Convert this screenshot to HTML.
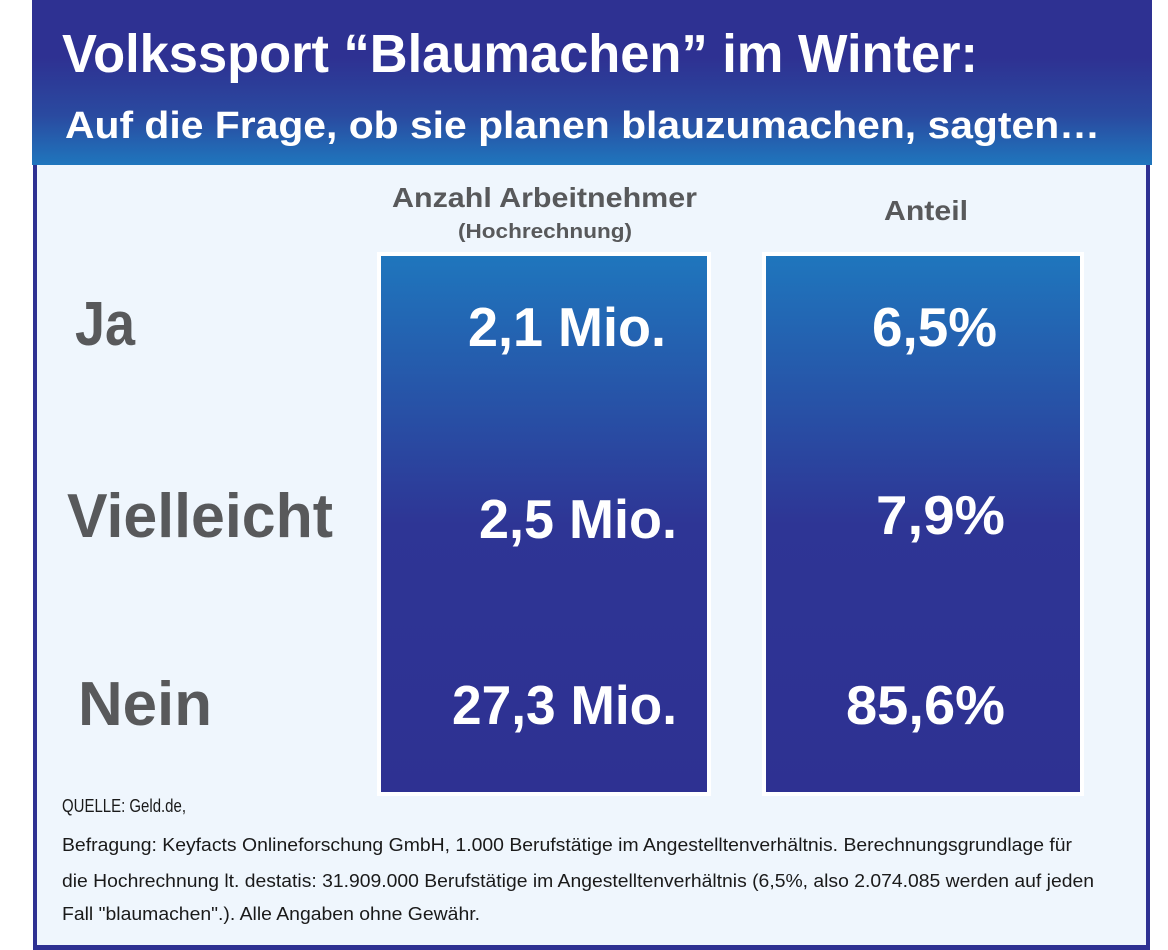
<!DOCTYPE html>
<html><head><meta charset="utf-8"><style>
html,body{margin:0;padding:0;background:#fff;}
svg{display:block;}
text{font-family:"Liberation Sans",sans-serif;}
</style></head><body>
<svg width="1168" height="950" viewBox="0 0 1168 950" xmlns="http://www.w3.org/2000/svg">
<defs>
<linearGradient id="hg" x1="0" y1="0" x2="0" y2="1">
<stop offset="0" stop-color="#2e3192"/><stop offset="0.35" stop-color="#2e3192"/><stop offset="0.7" stop-color="#2a4aa0"/><stop offset="1" stop-color="#1f76bd"/>
</linearGradient>
<linearGradient id="bg" x1="0" y1="0" x2="0" y2="1">
<stop offset="0" stop-color="#1f76bd"/><stop offset="0.5" stop-color="#2e3595"/><stop offset="1" stop-color="#2e3192"/>
</linearGradient>
</defs>
<rect x="33" y="160" width="1117" height="790" fill="#2e3192"/>
<rect x="37" y="165" width="1109" height="780" fill="#eff6fd"/>
<rect x="32" y="0" width="1120" height="165" fill="url(#hg)"/>
<text x="62" y="72" font-size="54" font-weight="bold" fill="#fff" textLength="916" lengthAdjust="spacingAndGlyphs">Volkssport “Blaumachen” im Winter:</text>
<text x="65" y="138" font-size="38" font-weight="bold" fill="#fff" textLength="1035" lengthAdjust="spacingAndGlyphs">Auf die Frage, ob sie planen blauzumachen, sagten…</text>
<text x="392" y="207" font-size="28" font-weight="bold" fill="#58595b" textLength="305" lengthAdjust="spacingAndGlyphs">Anzahl Arbeitnehmer</text>
<text x="458" y="238" font-size="20" font-weight="bold" fill="#58595b" textLength="174" lengthAdjust="spacingAndGlyphs">(Hochrechnung)</text>
<text x="884" y="220" font-size="28" font-weight="bold" fill="#58595b" textLength="84" lengthAdjust="spacingAndGlyphs">Anteil</text>
<rect x="377" y="252" width="334" height="544" fill="#fff"/>
<rect x="381" y="256" width="326" height="536" fill="url(#bg)"/>
<rect x="762" y="252" width="322" height="544" fill="#fff"/>
<rect x="766" y="256" width="314" height="536" fill="url(#bg)"/>
<g font-size="62" font-weight="bold" fill="#58595b">
<text x="75" y="345" textLength="60" lengthAdjust="spacingAndGlyphs">Ja</text>
<text x="67" y="537" textLength="266" lengthAdjust="spacingAndGlyphs">Vielleicht</text>
<text x="78" y="725" textLength="134" lengthAdjust="spacingAndGlyphs">Nein</text>
</g>
<g font-size="55" font-weight="bold" fill="#fff">
<text x="468" y="346" textLength="198" lengthAdjust="spacingAndGlyphs">2,1 Mio.</text>
<text x="479" y="538" textLength="198" lengthAdjust="spacingAndGlyphs">2,5 Mio.</text>
<text x="452" y="724" textLength="225" lengthAdjust="spacingAndGlyphs">27,3 Mio.</text>
<text x="872" y="346" textLength="125" lengthAdjust="spacingAndGlyphs">6,5%</text>
<text x="876" y="534" textLength="129" lengthAdjust="spacingAndGlyphs">7,9%</text>
<text x="846" y="724" textLength="159" lengthAdjust="spacingAndGlyphs">85,6%</text>
</g>
<g font-size="18" fill="#1a1a1a">
<text x="62" y="812" textLength="124" lengthAdjust="spacingAndGlyphs">QUELLE: Geld.de,</text>
<text x="62" y="851" textLength="1010" lengthAdjust="spacingAndGlyphs">Befragung: Keyfacts Onlineforschung GmbH, 1.000 Berufstätige im Angestelltenverhältnis. Berechnungsgrundlage für</text>
<text x="62" y="887" textLength="1032" lengthAdjust="spacingAndGlyphs">die Hochrechnung lt. destatis: 31.909.000 Berufstätige im Angestelltenverhältnis (6,5%, also  2.074.085 werden auf jeden</text>
<text x="62" y="920" textLength="418" lengthAdjust="spacingAndGlyphs">Fall "blaumachen".).  Alle Angaben ohne Gewähr.</text>
</g>
</svg>
</body></html>
